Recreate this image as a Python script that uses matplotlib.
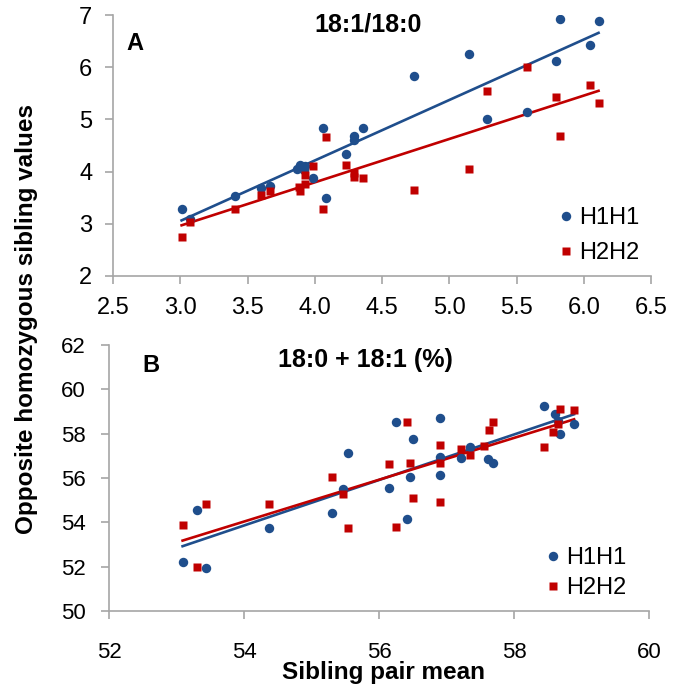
import numpy as np
import matplotlib
matplotlib.use("Agg")
import matplotlib.pyplot as plt

plt.rcParams['font.family'] = ['Liberation Sans', 'DejaVu Sans']

BLUE = '#1f4e8c'
RED = '#c00000'
GRAY = '#a6a6a6'

# panel A: 18:1/18:0
a_x_h1 = [3.01, 3.07, 3.41, 3.60, 3.67, 3.87, 3.89, 3.92, 3.93, 3.99, 4.06, 4.08,
          4.23, 4.29, 4.29, 4.36, 4.74, 5.15, 5.28, 5.58, 5.79, 5.82, 6.05, 6.11]
a_h1 = [3.28, 3.10, 3.53, 3.68, 3.73, 4.05, 4.13, 4.03, 4.11, 3.87, 4.84, 3.50,
        4.34, 4.68, 4.60, 4.84, 5.83, 6.25, 5.00, 5.15, 6.12, 6.93, 6.43, 6.89]
a_x_h2 = [3.01, 3.07, 3.41, 3.60, 3.67, 3.88, 3.89, 3.93, 3.93, 3.99, 4.06, 4.08,
          4.23, 4.29, 4.29, 4.36, 4.74, 5.15, 5.28, 5.58, 5.79, 5.82, 6.05, 6.11]
a_h2 = [2.74, 3.04, 3.28, 3.55, 3.63, 3.71, 3.62, 3.76, 3.93, 4.11, 3.28, 4.67,
        4.13, 3.97, 3.90, 3.87, 3.65, 4.05, 5.54, 6.01, 5.43, 4.69, 5.66, 5.32]

# panel B: 18:0 + 18:1 (%)
b_x_h1 = [53.09, 53.31, 53.43, 54.37, 55.31, 55.47, 55.54, 56.15, 56.25, 56.41, 56.46, 56.51,
          56.90, 56.90, 56.91, 57.21, 57.35, 57.62, 57.69, 58.44, 58.60, 58.65, 58.68, 58.89]
b_h1 = [52.23, 54.54, 51.94, 53.76, 54.42, 55.52, 57.14, 55.53, 58.53, 54.14, 56.06, 57.76,
        58.72, 56.93, 56.12, 56.92, 57.41, 56.86, 56.66, 59.25, 58.87, 58.55, 57.99, 58.44]
b_x_h2 = [53.09, 53.31, 53.43, 54.37, 55.31, 55.47, 55.54, 56.15, 56.25, 56.41, 56.46, 56.51,
          56.90, 56.90, 56.90, 57.21, 57.35, 57.55, 57.63, 57.69, 58.44, 58.58, 58.65, 58.68, 58.89]
b_h2 = [53.87, 51.99, 54.83, 54.83, 56.03, 55.27, 53.76, 56.62, 53.80, 58.53, 56.66, 55.09,
        57.49, 56.69, 54.90, 57.31, 57.04, 57.44, 58.17, 58.53, 57.38, 58.09, 58.42, 59.13, 59.05]


def trend(ax, x, y, color):
    """Excel style linear trendline over the data range."""
    x = np.asarray(x)
    m, c = np.polyfit(x, y, 1)
    xs = np.array([x.min(), x.max()])
    ax.plot(xs, m * xs + c, color=color, lw=1.9, zorder=2)


def style(ax, xpad, ypad, size):
    for s in ['top', 'right']:
        ax.spines[s].set_visible(False)
    for s in ['left', 'bottom']:
        ax.spines[s].set_color(GRAY)
        ax.spines[s].set_linewidth(1.2)
    ax.tick_params(axis='both', colors=GRAY, length=6, width=1.2, labelsize=size,
                   labelcolor='black', direction='out')
    ax.tick_params(axis='x', pad=xpad)
    ax.tick_params(axis='y', pad=ypad)


fig = plt.figure(figsize=(6.74, 6.97), dpi=100)

axA = fig.add_axes([113 / 674, 1 - 276 / 697, 538 / 674, 261 / 697])
axA.plot(a_x_h1, a_h1, 'o', color=BLUE, ms=6.8, mec='none', label='H1H1', zorder=3)
axA.plot(a_x_h2, a_h2, 's', color=RED, ms=6.2, mec='none', label='H2H2', zorder=3)
trend(axA, a_x_h1, a_h1, BLUE)
trend(axA, a_x_h2, a_h2, RED)
axA.set_xlim(2.5, 6.5)
axA.set_ylim(2, 7)
axA.set_xticks(np.arange(2.5, 6.51, 0.5))
axA.set_xticklabels(['%.1f' % v for v in np.arange(2.5, 6.51, 0.5)])
axA.set_yticks(range(2, 8))
style(axA, 9, 9, 17)
axA.legend(loc='lower right', bbox_to_anchor=(1.0, 0.0), frameon=False, fontsize=17,
           handlelength=0.5, handletextpad=0.3, labelspacing=0.55, borderaxespad=0.1)

axB = fig.add_axes([109 / 674, 1 - 611 / 697, 540 / 674, 266 / 697])
axB.plot(b_x_h1, b_h1, 'o', color=BLUE, ms=6.8, mec='none', label='H1H1', zorder=3)
axB.plot(b_x_h2, b_h2, 's', color=RED, ms=6.2, mec='none', label='H2H2', zorder=3)
trend(axB, b_x_h1, b_h1, BLUE)
trend(axB, b_x_h2, b_h2, RED)
axB.set_xlim(52, 60)
axB.set_ylim(50, 62)
axB.set_xticks(range(52, 61, 2))
axB.set_yticks(range(50, 63, 2))
style(axB, 16, 11, 16)
axB.legend(loc='lower right', bbox_to_anchor=(0.98, 0.0), frameon=False, fontsize=17,
           handlelength=0.5, handletextpad=0.3, labelspacing=0.35, borderaxespad=0.1)

fig.text(368 / 674, 1 - 25 / 697, '18:1/18:0', fontsize=18, fontweight='bold',
         ha='center', va='center')
fig.text(365 / 674, 1 - 360 / 697, '18:0 + 18:1 (%)', fontsize=18, fontweight='bold',
         ha='center', va='center')
fig.text(135 / 674, 1 - 43 / 697, 'A', fontsize=17, fontweight='bold', ha='center', va='center')
fig.text(151 / 674, 1 - 366 / 697, 'B', fontsize=17, fontweight='bold', ha='center', va='center')

fig.text(27 / 674, 1 - 319 / 697, 'Opposite homozygous sibling values', fontsize=17.5,
         fontweight='bold', rotation=90, ha='center', va='center')
fig.text(383 / 674, 1 - 673 / 697, 'Sibling pair mean', fontsize=17.5, fontweight='bold',
         ha='center', va='center')

fig.savefig('out.png', dpi=100)
